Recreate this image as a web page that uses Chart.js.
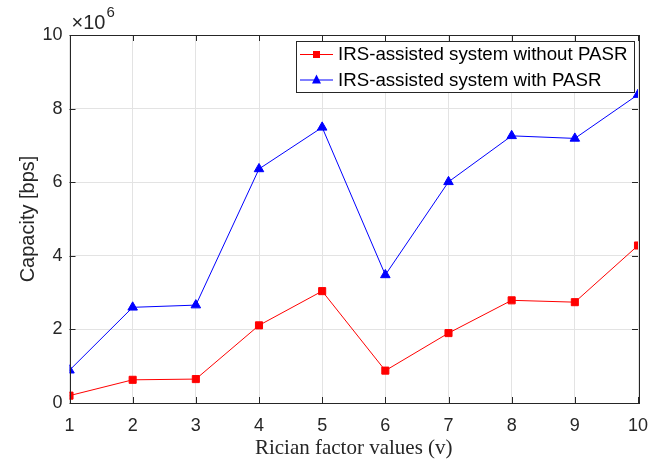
<!DOCTYPE html>
<html>
<head>
<meta charset="utf-8">
<script src="https://cdn.jsdelivr.net/npm/chart.js@4"></script>
<style>
  html, body { margin: 0; padding: 0; background: #fff; }
  #wrap { width: 648px; height: 467px; position: relative; }
</style>
</head>
<body>
<div id="wrap"><canvas id="c" width="648" height="467"></canvas></div>
<script>
// Data (capacity in units of 10^6 bps)
const ricianFactors = [1, 2, 3, 4, 5, 6, 7, 8, 9, 10];
const capacityWithoutPASR = [0.20, 0.63, 0.65, 2.11, 3.04, 0.88, 1.90, 2.79, 2.74, 4.28];
const capacityWithPASR = [0.89, 2.60, 2.66, 6.36, 7.49, 3.48, 6.01, 7.26, 7.19, 8.38];
const seriesLabels = ['IRS-assisted system without PASR', 'IRS-assisted system with PASR'];
const yTicks = [0, 2, 4, 6, 8, 10];
const xTicks = [1, 2, 3, 4, 5, 6, 7, 8, 9, 10];
const yExponentLabel = '6';

const AXIS_COLOR = '#262626';
const SANS = '"Liberation Sans", Arial, sans-serif';
const SERIF = '"Liberation Serif", "Times New Roman", serif';

const boxPlugin = {
  id: 'matlabBox',
  afterDatasetsDraw(chart) {
    const { ctx, chartArea: a, scales } = chart;
    ctx.save();
    ctx.strokeStyle = AXIS_COLOR;
    ctx.lineWidth = 1;
    // inward ticks
    ctx.beginPath();
    xTicks.forEach(v => {
      const x = Math.round(scales.x.getPixelForValue(v)) + 0.5;
      ctx.moveTo(x, a.bottom); ctx.lineTo(x, a.bottom - 6);
      ctx.moveTo(x, a.top); ctx.lineTo(x, a.top + 6);
    });
    yTicks.forEach(v => {
      const y = Math.round(scales.y.getPixelForValue(v)) + 0.5;
      ctx.moveTo(a.left, y); ctx.lineTo(a.left + 6, y);
      ctx.moveTo(a.right, y); ctx.lineTo(a.right - 6, y);
    });
    ctx.stroke();
    ctx.strokeRect(Math.round(a.left) + 0.5, Math.round(a.top) + 0.5,
                   Math.round(a.right - a.left), Math.round(a.bottom - a.top));
    // exponent label
    ctx.fillStyle = AXIS_COLOR;
    ctx.textBaseline = 'alphabetic';
    ctx.textAlign = 'left';
    ctx.font = '20px ' + SANS;
    ctx.fillText('\u00D710', a.left + 2, a.top - 6);
    const w = ctx.measureText('\u00D710').width;
    ctx.font = '15px ' + SANS;
    ctx.fillText(yExponentLabel, a.left + 2 + w + 1, a.top - 18);

    // legend
    const lx = 296, ly = 41, lw = 338, lh = 51;
    ctx.fillStyle = '#fff';
    ctx.fillRect(lx, ly, lw, lh);
    ctx.strokeStyle = AXIS_COLOR;
    ctx.lineWidth = 1;
    ctx.strokeRect(lx + 0.5, ly + 0.5, lw, lh);
    chart.data.datasets.forEach((ds, i) => {
      const cy = ly + 13 + i * 25.5;
      ctx.strokeStyle = ds.borderColor;
      ctx.lineWidth = 1;
      ctx.beginPath();
      ctx.moveTo(lx + 4, cy + 0.5); ctx.lineTo(lx + 37, cy + 0.5);
      ctx.stroke();
      ctx.fillStyle = ds.borderColor;
      if (ds.pointStyle === 'rect') {
        ctx.fillRect(lx + 17, cy - 3, 7, 7);
      } else {
        ctx.beginPath();
        ctx.moveTo(lx + 20.5, cy - 5);
        ctx.lineTo(lx + 25, cy + 4);
        ctx.lineTo(lx + 16, cy + 4);
        ctx.closePath();
        ctx.fill();
      }
      ctx.fillStyle = '#000';
      ctx.font = '18.7px ' + SANS;
      ctx.textBaseline = 'middle';
      ctx.fillText(ds.label, lx + 42, cy + 1);
    });
    ctx.restore();
  }
};

new Chart(document.getElementById('c'), {
  type: 'line',
  data: {
    datasets: [
      {
        label: seriesLabels[0],
        data: ricianFactors.map((x, i) => ({ x, y: capacityWithoutPASR[i] })),
        borderColor: '#ff0000', backgroundColor: '#ff0000',
        borderWidth: 1, pointStyle: 'rect', pointRadius: 5, pointHoverRadius: 5,
        tension: 0, fill: false
      },
      {
        label: seriesLabels[1],
        data: ricianFactors.map((x, i) => ({ x, y: capacityWithPASR[i] })),
        borderColor: '#0000ff', backgroundColor: '#0000ff',
        borderWidth: 1, pointStyle: 'triangle', pointRadius: 5.5, pointHoverRadius: 5.5,
        tension: 0, fill: false
      }
    ]
  },
  options: {
    responsive: false,
    animation: false,
    events: [],
    layout: { padding: { top: 35, right: 10, left: 16, bottom: 6 } },
    plugins: { legend: { display: false }, tooltip: { enabled: false } },
    scales: {
      x: {
        type: 'linear', min: 1, max: 10,
        afterBuildTicks: s => { s.ticks = xTicks.map(v => ({ value: v })); },
        afterFit: s => { s.height = 58; s.paddingLeft = 0; s.paddingRight = 0; },
        grid: { color: '#e3e3e3', drawTicks: false, lineWidth: 1 },
        border: { display: false },
        ticks: { color: AXIS_COLOR, font: { family: SANS, size: 18 }, padding: 12, maxRotation: 0 },
        title: { display: true, text: 'Rician factor values (v)', color: '#262626',
                 font: { family: SERIF, size: 21 }, padding: { top: 0, bottom: 0 } }
      },
      y: {
        type: 'linear', min: 0, max: 10,
        afterBuildTicks: s => { s.ticks = yTicks.map(v => ({ value: v })); },
        afterFit: s => { s.width = 53.5; s.paddingTop = 0; s.paddingBottom = 0; },
        grid: { color: '#e3e3e3', drawTicks: false, lineWidth: 1 },
        border: { display: false },
        ticks: { color: AXIS_COLOR, font: { family: SANS, size: 18 }, padding: 7 },
        title: { display: true, text: 'Capacity [bps]', color: '#262626',
                 font: { family: SANS, size: 20 }, padding: { top: 0, bottom: 0 } }
      }
    }
  },
  plugins: [boxPlugin]
});
</script>
</body>
</html>
